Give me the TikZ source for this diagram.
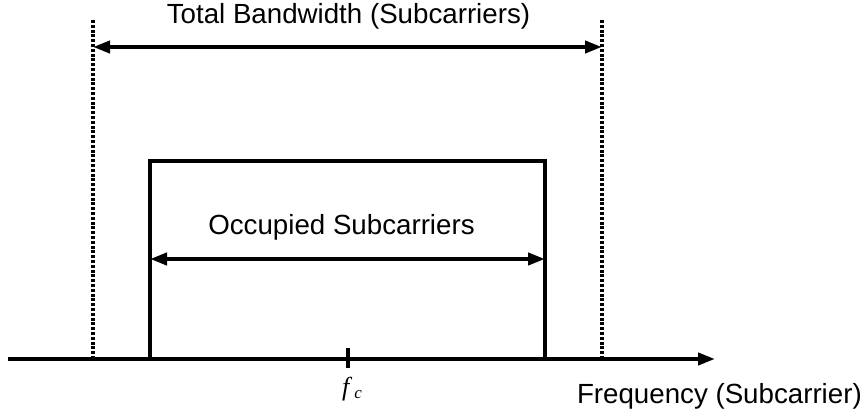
\documentclass[tikz,border=0pt]{standalone}
\usepackage{fontspec}
\setmainfont{Liberation Sans}
\newfontfamily\fcfont{Liberation Serif}
\usetikzlibrary{arrows.meta}

\begin{document}
\begin{tikzpicture}[x=1pt,y=1pt,
  lbl/.style={font=\fontsize{27.7}{33}\selectfont, inner sep=0pt},
  bold line/.style={line width=4pt},
  dots/.style={line width=4pt, dash pattern=on 3pt off 1.8pt}]
\useasboundingbox (0,0) rectangle (867,418);
% axis
\coordinate (axstart) at (8,59);
\coordinate (axtip) at (715,59);
\draw[bold line, -{Triangle[length=17pt,width=12pt]}] (axstart) -- (axtip);
\node[lbl, anchor=base east] (freq) at (862,15) {Frequency (Subcarrier)};
% centre frequency
\draw[line width=4.5pt] (348,50) coordinate (fcbot) -- (348,70) coordinate (fctop);
\node[inner sep=0pt, anchor=base, font=\fcfont\itshape\fontsize{26}{30}\selectfont] (fc) at (352,23)
  {f\hspace{5pt}\raisebox{-3pt}{\fontsize{17}{20}\selectfont c}};
% total bandwidth
\draw[dots] (93,59) coordinate (totL) -- (93,399) coordinate (totLtop);
\draw[dots] (602,59) coordinate (totR) -- (602,399) coordinate (totRtop);
\coordinate (totarrL) at (93,371);
\coordinate (totarrR) at (602,371);
\draw[bold line, {Triangle[length=17pt,width=12pt]}-{Triangle[length=17pt,width=12pt]}] (totarrL) -- (totarrR);
\node[lbl, anchor=base] (total) at (348.5,394) {Total Bandwidth (Subcarriers)};
% occupied
\draw[bold line] (150,59) coordinate (occL) -- (150,257) coordinate (occLtop) -- (545,257) coordinate (occRtop) -- (545,59) coordinate (occR);
\coordinate (occarrL) at (150,159);
\coordinate (occarrR) at (545,159);
\draw[bold line, {Triangle[length=17pt,width=12pt]}-{Triangle[length=17pt,width=12pt]}] (occarrL) -- (occarrR);
\node[lbl, anchor=base] (occ) at (341.5,183) {Occupied Subcarriers};
\end{tikzpicture}
\end{document}
